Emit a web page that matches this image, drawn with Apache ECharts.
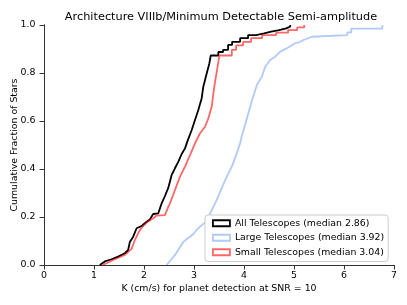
<!DOCTYPE html>
<html>
<head>
<meta charset="utf-8">
<script src="https://cdn.jsdelivr.net/npm/echarts@6/dist/echarts.min.js"></script>
<style>html,body{margin:0;padding:0;background:#fff}#c{width:407px;height:305px}</style>
</head>
<body>
<div id="c"></div>
<script>
var xTicks = [0, 1, 2, 3, 4, 5, 6, 7];
var yTicks = [0, 0.2, 0.4, 0.6, 0.8, 1.0];
var seriesNames = ['All Telescopes (median 2.86)', 'Large Telescopes (median 3.92)', 'Small Telescopes (median 3.04)'];

var kAll = [1.116, 1.116, 1.216, 1.351, 1.483, 1.617, 1.683, 1.717, 1.784, 1.852, 1.952, 2.052, 2.118, 2.184, 2.285, 2.353, 2.419, 2.485, 2.553, 2.619, 2.685, 2.754, 2.820, 2.866, 2.954, 3.020, 3.086, 3.154, 3.186, 3.255, 3.307, 3.335, 3.487, 3.487, 3.581, 3.581, 3.681, 3.681, 3.762, 3.762, 3.922, 3.922, 4.082, 4.082, 4.242, 4.242, 4.403, 4.403, 4.543, 4.543, 4.703, 4.703, 4.844, 4.844, 4.924, 4.924];
var fAll = [0, 0.006, 0.015, 0.024, 0.035, 0.049, 0.0625, 0.096, 0.118, 0.153, 0.1625, 0.18, 0.19, 0.2125, 0.215, 0.257, 0.2875, 0.321, 0.375, 0.403, 0.43, 0.4625, 0.486, 0.514, 0.5625, 0.604, 0.646, 0.695, 0.743, 0.799, 0.84, 0.873, 0.873, 0.8875, 0.8875, 0.896, 0.896, 0.917, 0.917, 0.930, 0.930, 0.945, 0.945, 0.958, 0.958, 0.965, 0.965, 0.972, 0.972, 0.979, 0.979, 0.986, 0.986, 0.993, 0.993, 1.0];

var kLarge = [2.453, 2.469, 2.553, 2.619, 2.685, 2.786, 2.854, 2.920, 2.986, 3.054, 3.120, 3.255, 3.355, 3.455, 3.555, 3.655, 3.756, 3.856, 3.922, 3.956, 4.022, 4.088, 4.122, 4.188, 4.257, 4.357, 4.423, 4.523, 4.623, 4.723, 4.858, 5.024, 5.124, 5.190, 5.359, 5.385, 6.066, 6.066, 6.146, 6.146, 6.767, 6.767];
var fLarge = [0, 0.008, 0.025, 0.042, 0.0625, 0.096, 0.108, 0.118, 0.129, 0.146, 0.16, 0.183, 0.229, 0.271, 0.32, 0.368, 0.41, 0.465, 0.507, 0.5375, 0.583, 0.632, 0.658, 0.704, 0.75, 0.785, 0.826, 0.854, 0.868, 0.889, 0.903, 0.924, 0.93, 0.9375, 0.951, 0.958, 0.958, 0.969, 0.969, 0.985, 0.985, 1.0];

var kSmall = [1.176, 1.176, 1.383, 1.617, 1.752, 1.818, 1.884, 1.952, 2.052, 2.184, 2.252, 2.419, 2.485, 2.519, 2.619, 2.719, 2.820, 2.920, 3.020, 3.120, 3.220, 3.287, 3.355, 3.387, 3.421, 3.455, 3.487, 3.507, 3.756, 3.756, 3.842, 3.842, 3.982, 3.982, 4.142, 4.142, 4.363, 4.363, 4.643, 4.643, 4.882, 4.882, 5.064, 5.064, 5.204, 5.204];
var fSmall = [0, 0.004, 0.021, 0.042, 0.067, 0.104, 0.133, 0.156, 0.177, 0.195, 0.206, 0.208, 0.242, 0.257, 0.3125, 0.368, 0.41, 0.458, 0.507, 0.549, 0.576, 0.611, 0.66, 0.715, 0.764, 0.805, 0.846, 0.873, 0.873, 0.896, 0.896, 0.915, 0.915, 0.930, 0.930, 0.945, 0.945, 0.958, 0.958, 0.968, 0.968, 0.979, 0.979, 0.99, 0.99, 1.0];

var colors = ['#000000', 'rgba(100,149,237,0.5)', 'rgba(255,0,0,0.6)'];

function pairs(k, f) { return k.map(function (v, i) { return [v, f[i]]; }); }

var FONT = "'DejaVu Sans', sans-serif";
var chart = echarts.init(document.getElementById('c'), null, { renderer: 'canvas' });
var axisLine = { show: true, lineStyle: { color: '#333', width: 1 } };
chart.setOption({
  animation: false,
  backgroundColor: '#fff',
  title: {
    text: 'Architecture VIIIb/Minimum Detectable Semi-amplitude',
    left: 216, top: 7, textAlign: 'center',
    textStyle: { fontFamily: FONT, fontSize: 11.3, fontWeight: 'normal', color: '#000' }
  },
  grid: { left: 44, right: 13, top: 25, bottom: 40, outerBoundsMode: 'none', containLabel: false },
  legend: {
    orient: 'vertical', left: 205, top: 215,
    padding: [3, 4, 4, 7], itemGap: 4,
    itemWidth: 17, itemHeight: 6,
    backgroundColor: '#fff', borderColor: '#ccc', borderWidth: 1, borderRadius: 3,
    textStyle: { fontFamily: FONT, fontSize: 9.4, color: '#000', lineHeight: 10.5 },
    data: seriesNames.map(function (n, i) {
      return { name: n, icon: 'rect', itemStyle: { color: 'transparent', borderColor: colors[i], borderWidth: 1.8 } };
    })
  },
  xAxis: [{
    type: 'value', min: xTicks[0], max: xTicks[xTicks.length - 1], interval: 1,
    name: 'K (cm/s) for planet detection at SNR = 10', nameLocation: 'middle', nameGap: 19, nameMoveOverlap: false,
    nameTextStyle: { fontFamily: FONT, fontSize: 9.4, color: '#000' },
    axisLine: axisLine, splitLine: { show: false },
    axisTick: { show: true, length: 4.5, lineStyle: { color: '#333' } },
    axisLabel: { fontFamily: FONT, fontSize: 9.4, color: '#000', margin: 6 }
  }, {
    type: 'value', position: 'top', min: 0, max: 7, axisLine: axisLine,
    axisTick: { show: false }, axisLabel: { show: false }, splitLine: { show: false }
  }],
  yAxis: [{
    type: 'value', min: yTicks[0], max: yTicks[yTicks.length - 1], interval: 0.2,
    name: 'Cumulative Fraction of Stars', nameLocation: 'middle', nameGap: 25, nameMoveOverlap: false,
    nameTextStyle: { fontFamily: FONT, fontSize: 9.4, color: '#000' },
    axisLine: axisLine, splitLine: { show: false },
    axisTick: { show: true, length: 4.5, lineStyle: { color: '#333' } },
    axisLabel: { fontFamily: FONT, fontSize: 9.4, color: '#000', margin: 8.5, formatter: function (v) { return v.toFixed(1); } }
  }, {
    type: 'value', position: 'right', min: 0, max: 1, axisLine: axisLine,
    axisTick: { show: false }, axisLabel: { show: false }, splitLine: { show: false }
  }],
  series: [
    { name: seriesNames[0], type: 'line', showSymbol: false, silent: true, data: pairs(kAll, fAll), lineStyle: { color: colors[0], width: 1.8 }, itemStyle: { color: colors[0] }, z: 2 },
    { name: seriesNames[1], type: 'line', showSymbol: false, silent: true, data: pairs(kLarge, fLarge), lineStyle: { color: colors[1], width: 1.8 }, itemStyle: { color: colors[1] }, z: 3 },
    { name: seriesNames[2], type: 'line', showSymbol: false, silent: true, data: pairs(kSmall, fSmall), lineStyle: { color: colors[2], width: 1.8 }, itemStyle: { color: colors[2] }, z: 4 }
  ]
});
</script>
</body>
</html>
